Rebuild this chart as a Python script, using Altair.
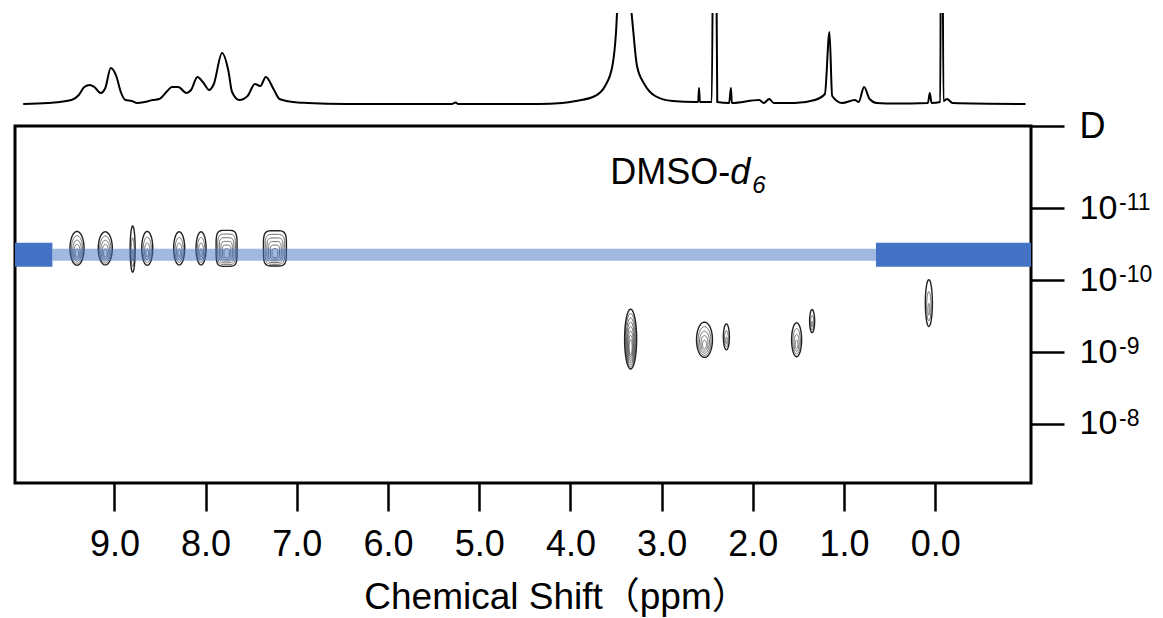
import altair as alt
import pandas as pd
import numpy as np

FONT = "Liberation Sans, Arial, Noto Sans CJK JP, sans-serif"

# ---------------- 1D spectrum ----------------
spec_ppm = [10.00, 9.73, 9.47, 9.39, 9.33, 9.27, 9.22, 9.15, 9.10, 9.04,
            8.98, 8.93, 8.88, 8.81, 8.75, 8.67, 8.58, 8.51, 8.42, 8.37,
            8.30, 8.21, 8.16, 8.09, 8.03, 7.96, 7.91, 7.82, 7.75, 7.71,
            7.63, 7.54, 7.46, 7.40, 7.34, 7.25, 7.19, 7.04, 6.88, 6.46,
            5.30, 5.26, 5.23, 4.35, 4.09, 3.94, 3.73, 3.62, 3.54, 3.50,
            3.47, 3.41, 3.36, 3.31, 3.27, 3.19, 3.07, 2.88, 2.63, 2.60,
            2.59, 2.58, 2.45, 2.427, 2.413, 2.39, 2.26, 2.24, 2.23, 1.93,
            1.88, 1.82, 1.77, 1.54, 1.32, 1.21, 1.16, 1.13, 1.02, 0.88,
            0.84, 0.78, 0.72, 0.64, 0.44, 0.08, 0.06, 0.04, -0.055, -0.066,
            -0.074, -0.09, -0.13, -0.19, -0.99]
spec_int = [0, 1, 4, 9, 17, 19, 17, 11, 16, 36,
            28, 12, 4, 3, 1, 2, 4, 5, 13, 17,
            17, 11, 14, 27, 22, 14, 20, 51, 33, 12,
            4, 8, 20, 18, 27, 14, 5, 2, 1, 0,
            0, 1.5, 0, 0, 1, 3, 8, 18, 38, 72,
            130, 250, 130, 72, 38, 20, 8, 3, 2, 2,
            16, 2, 2, 300, 300, 2, 1, 16, 1, 4,
            1, 5, 1, 1, 4, 10, 72, 8, 1, 4,
            2, 17, 5, 1, 0.5, 1, 11, 1, 2, 300,
            300, 3, 5, 1, 0]

# ---------------- DOSY cross peaks ----------------
peak_ppm = [9.41, 9.10, 8.80, 8.64, 8.29, 8.05, 7.77, 7.24,
            3.34, 2.53, 2.29, 1.52, 1.35, 0.07]
peak_logD = [-10.44, -10.44, -10.43, -10.44, -10.44, -10.44, -10.44, -10.44,
             -9.18, -9.17, -9.21, -9.17, -9.43, -9.68]
peak_width_ppm = [0.154, 0.154, 0.055, 0.121, 0.121, 0.110, 0.230, 0.252,
                  0.132, 0.175, 0.066, 0.110, 0.055, 0.077]
peak_height_dec = [0.47, 0.46, 0.64, 0.47, 0.46, 0.46, 0.50, 0.49,
                   0.83, 0.49, 0.36, 0.47, 0.32, 0.65]
peak_rings = [5, 5, 3, 4, 4, 4, 6, 6, 8, 5, 3, 4, 3, 3]
peak_square = [0, 0, 0, 0, 0, 0, 1, 1, 0, 0, 0, 0, 0, 0]

# ---------------- diffusion band ----------------
band_from = [10.09, 9.68, 0.65]
band_to = [9.68, 0.65, -1.05]
band_part = ["end", "mid", "end"]
band_logD = -10.35

# ---------------- axes ----------------
x_ticks = [9, 8, 7, 6, 5, 4, 3, 2, 1, 0]
d_ticks = [-11, -10, -9, -8]
d_exponents = ["-11", "-10", "-9", "-8"]
X_DOMAIN = [-1.05, 10.09]
D_DOMAIN = [-12.14, -7.18]

annot_ppm = [2.248]
annot_logD = [-11.333]

# ---------------- build tables ----------------
spec_df = pd.DataFrame({"ppm": spec_ppm, "I": spec_int, "idx": range(len(spec_ppm))})

rows = []
theta = np.linspace(0, 2 * np.pi, 61)
for i in range(len(peak_ppm)):
    n = peak_rings[i]
    for r in range(n):
        f = 1.0 - 0.75 * r / max(n - 1, 1)
        off = (1 - f) * peak_height_dec[i] * 0.18
        for k, t in enumerate(theta):
            c, s = np.cos(t), np.sin(t)
            if peak_square[i]:
                c = np.sign(c) * abs(c) ** 0.45
                s = np.sign(s) * abs(s) ** 0.45
            rows.append({
                "ring": f"{i}-{r}",
                "outer": r == 0,
                "k": k,
                "ppm": peak_ppm[i] + peak_width_ppm[i] / 2 * f * c,
                "logD": peak_logD[i] + off + peak_height_dec[i] / 2 * f * s,
            })
cont_df = pd.DataFrame(rows)
outer_df = cont_df[cont_df["outer"]]
inner_df = cont_df[~cont_df["outer"]]

band_df = pd.DataFrame({"x0": band_from, "x1": band_to, "part": band_part,
                        "logD": [band_logD] * 3})
annot_df = pd.DataFrame({"ppm": annot_ppm, "logD": annot_logD})
exp_df = pd.DataFrame({"logD": d_ticks, "exp": d_exponents,
                       "ppm": [X_DOMAIN[0]] * len(d_ticks)})

# ---------------- scales & axes ----------------
xscale = alt.Scale(domain=X_DOMAIN, reverse=True, nice=False, zero=False)
yscale = alt.Scale(domain=D_DOMAIN, reverse=True, nice=False, zero=False)

x_axis = alt.Axis(values=x_ticks, format=".1f", orient="bottom", tickSize=28,
                  tickWidth=2.5, tickColor="black", domain=False, grid=False,
                  labelFontSize=36, labelFont=FONT, labelColor="black",
                  labelPadding=16, labelFlush=False, labelOverlap=False,
                  title="Chemical Shift（ppm）", titleFont=FONT, titleFontSize=37,
                  titleFontWeight="normal", titleColor="black", titleX=541,
                  titleY=125, titleBaseline="alphabetic", titleAlign="center")
y_axis = alt.Axis(orient="right", values=[D_DOMAIN[0]] + d_ticks,
                  labelExpr="datum.value < -12 ? 'D' : '10'",
                  tickSize=33, tickWidth=2.5, tickColor="black", domain=False,
                  grid=False,
                  labelFontSize={"condition": {"test": "datum.value < -12", "value": 36}, "value": 34},
                  labelFont=FONT, labelColor="black", labelPadding=15,
                  labelBaseline="middle", labelAlign="left", labelFlush=False,
                  labelOverlap=False, title=None)


def X(field):
    return alt.X(f"{field}:Q", scale=xscale, axis=x_axis)


def Y(field):
    return alt.Y(f"{field}:Q", scale=yscale, axis=y_axis)


inner = alt.Chart(inner_df).mark_line(color="#5a5a5a", strokeWidth=0.9, clip=True).encode(
    x=X("ppm"), y=Y("logD"), detail="ring:N", order="k:Q")
outer = alt.Chart(outer_df).mark_line(color="#222222", strokeWidth=1.4, clip=True).encode(
    x=X("ppm"), y=Y("logD"), detail="ring:N", order="k:Q")

band_mid = alt.Chart(band_df).transform_filter("datum.part == 'mid'").mark_rule(
    color="#4472C4", opacity=0.5, strokeWidth=12, strokeCap="butt", clip=True).encode(
    x=X("x0"), x2="x1", y=Y("logD"))
band_end = alt.Chart(band_df).transform_filter("datum.part == 'end'").mark_rule(
    color="#4472C4", strokeWidth=24, strokeCap="butt", clip=True).encode(
    x=X("x0"), x2="x1", y=Y("logD"))

t1 = alt.Chart(annot_df).mark_text(text="DMSO-", align="right", baseline="alphabetic",
                                   fontSize=36, font=FONT, color="black").encode(
    x=X("ppm"), y=Y("logD"))
t2 = alt.Chart(annot_df).mark_text(text="d", align="left", baseline="alphabetic",
                                   fontSize=36, font=FONT, fontStyle="italic",
                                   color="black").encode(x=X("ppm"), y=Y("logD"))
t3 = alt.Chart(annot_df).mark_text(text="6", align="left", baseline="alphabetic",
                                   fontSize=24, font=FONT, fontStyle="italic",
                                   dx=22, dy=9, color="black").encode(x=X("ppm"), y=Y("logD"))

# superscript exponents of the D-axis labels
exps = alt.Chart(exp_df).mark_text(align="left", baseline="alphabetic", fontSize=23,
                                   font=FONT, color="black", dx=88, dy=2).encode(
    x=X("ppm"), y=Y("logD"), text="exp:N")

main = alt.layer(inner, outer, band_mid, band_end, t1, t2, t3, exps).properties(
    width=1016, height=357,
    view=alt.ViewBackground(stroke="black", strokeWidth=3))

top = alt.Chart(spec_df).mark_line(color="black", strokeWidth=2, clip=True,
                                   interpolate="monotone").encode(
    x=alt.X("ppm:Q", scale=xscale, axis=None),
    y=alt.Y("I:Q", scale=alt.Scale(domain=[-15, 91], nice=False, zero=False), axis=None),
    order="idx:Q",
).properties(width=1016, height=106,
             view=alt.ViewBackground(stroke="transparent"))

chart = alt.vconcat(top, main, spacing=7, bounds="flush").properties(
    padding={"left": 13, "top": 12, "right": 5, "bottom": 5}
).configure(background="white")

chart.save("out.html", embed_options={"renderer": "svg", "actions": False})
